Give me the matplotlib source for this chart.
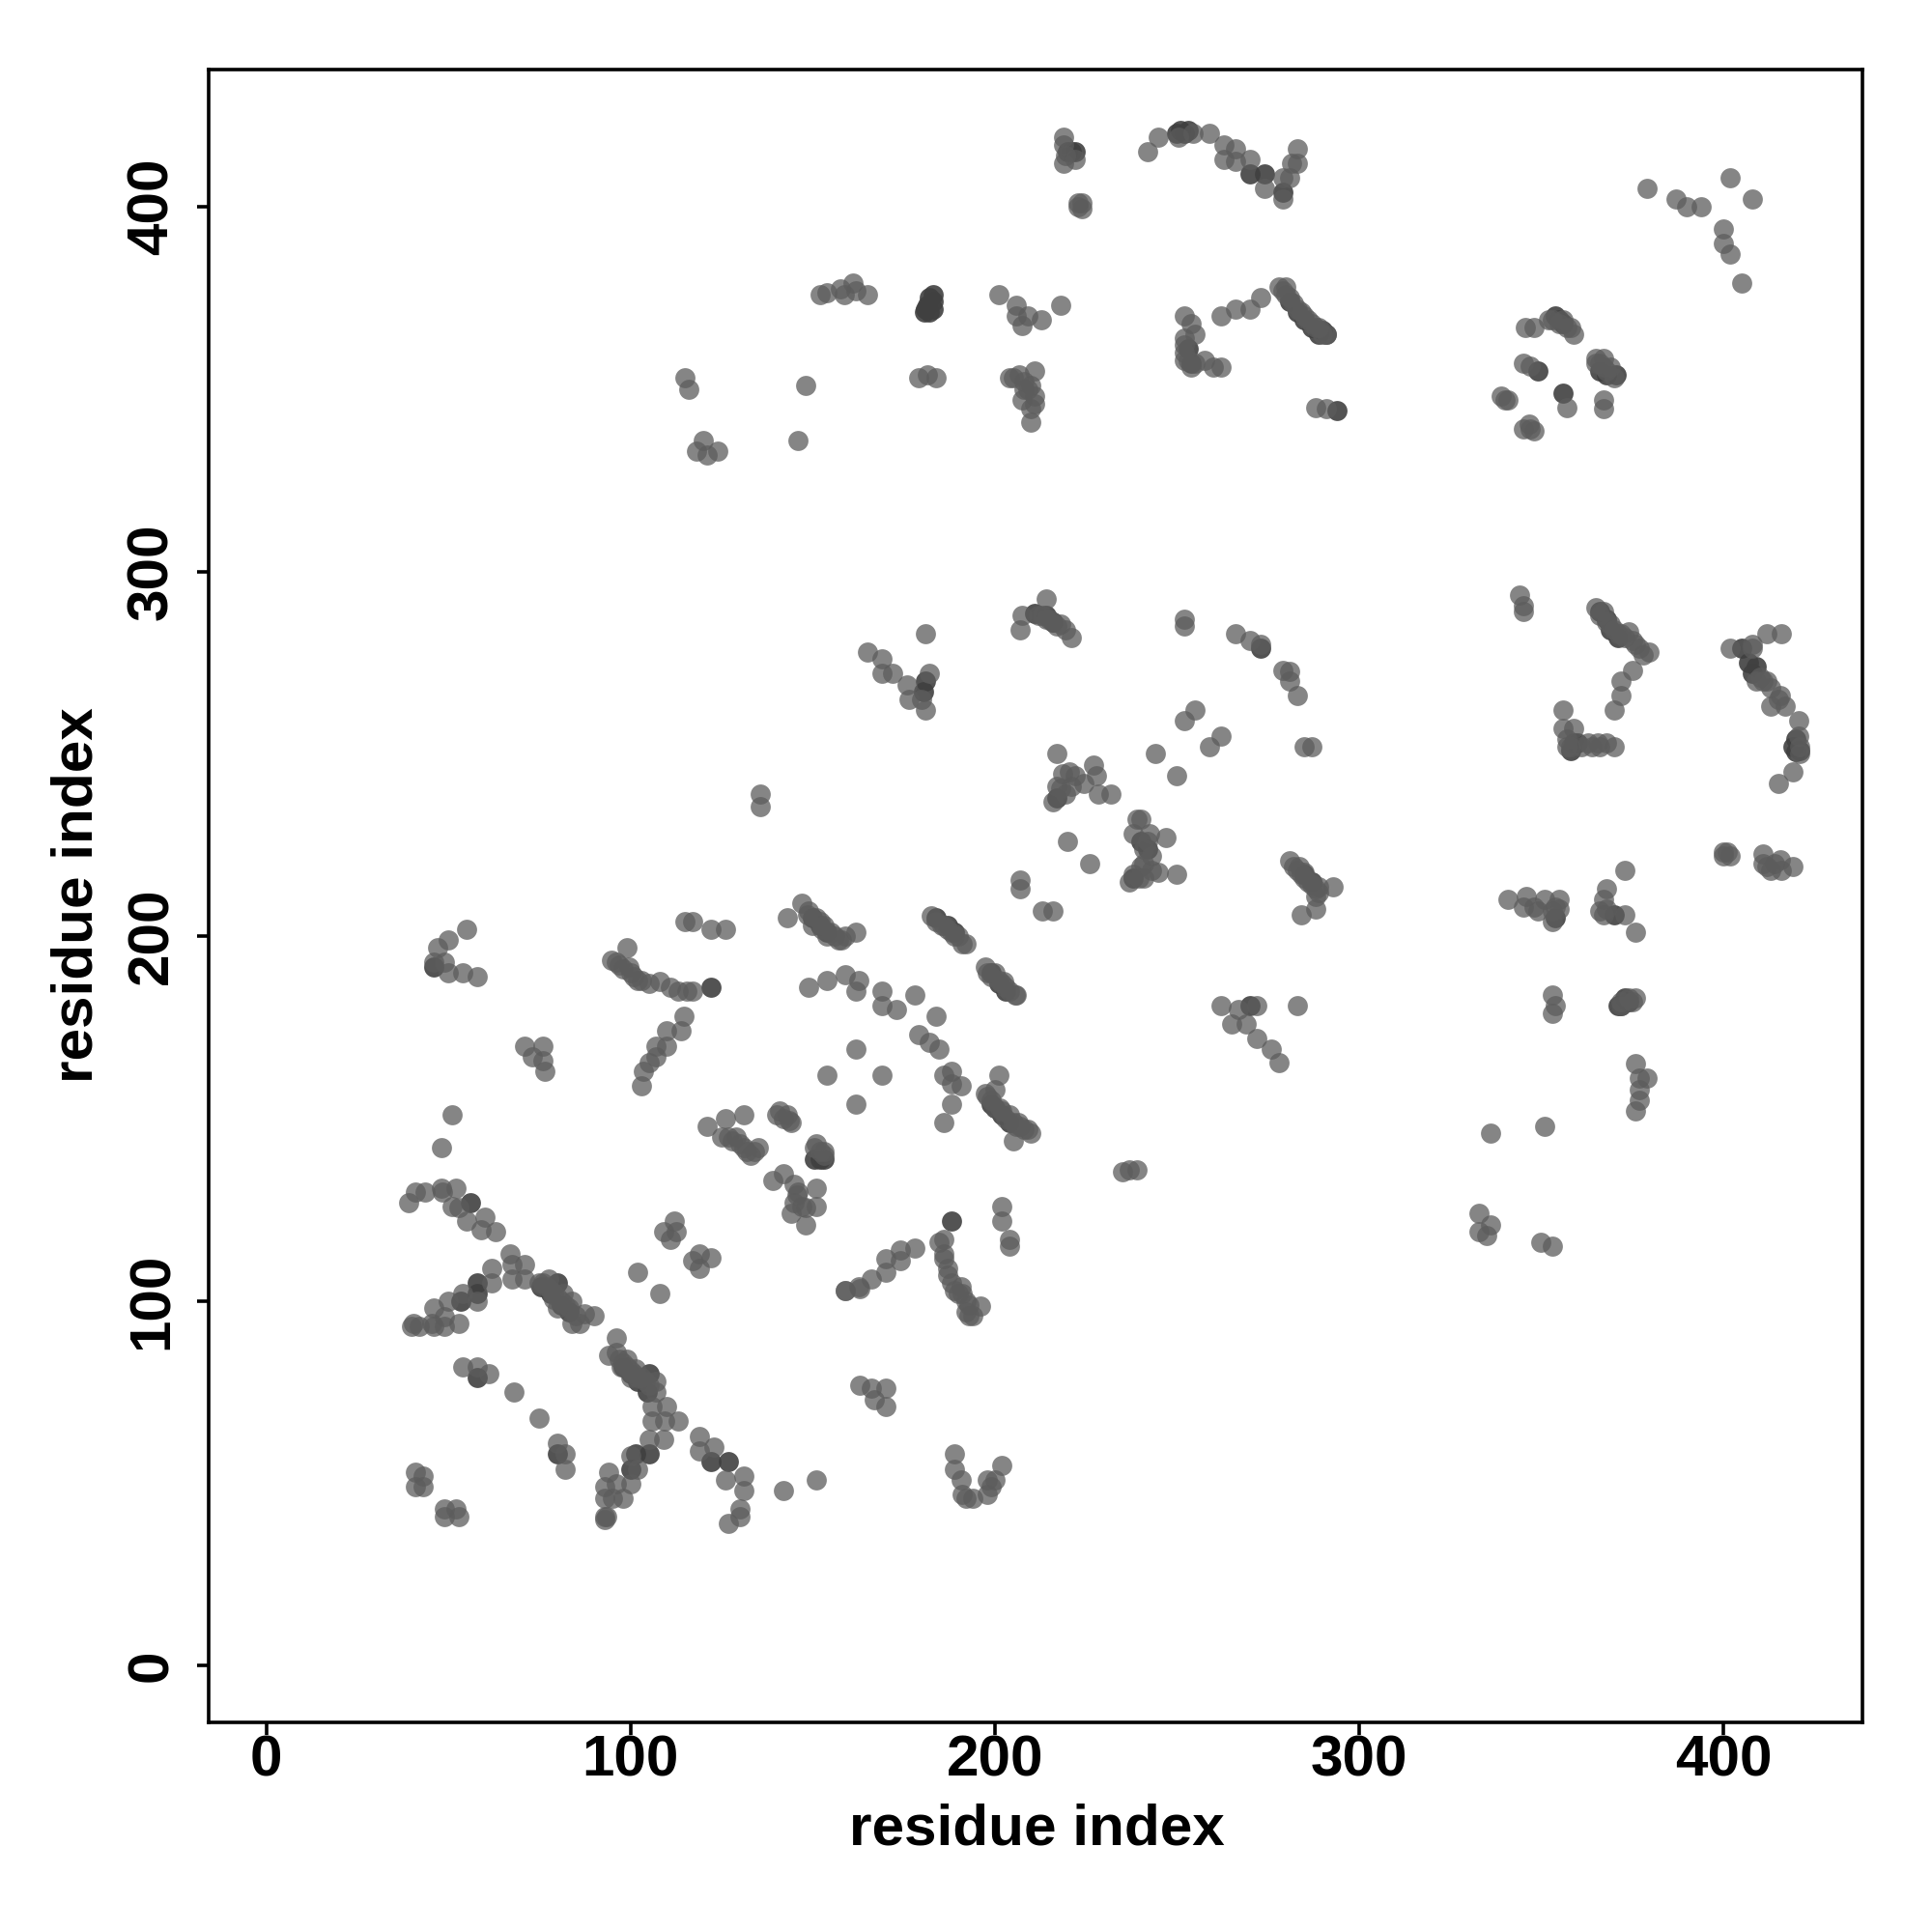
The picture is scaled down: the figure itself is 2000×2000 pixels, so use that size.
import matplotlib
matplotlib.use("Agg")
import matplotlib.pyplot as plt

plt.rcParams['font.family'] = ['Liberation Sans', 'DejaVu Sans']

tick_values = [0, 100, 200, 300, 400]
axis_label = "residue index"

lower_left = [(51,151),(48,142),(39,127),(41,130),(43.6,130),(48,131),(48.5,130),(52,131),(51,126),(53,125.6),(55,122),(60,123),(59,119.5),(63,119),
 (67,113),(67.5,110),(67.5,106),(71,110),(71,106),(62,109),(62,105),(58,100),(54,102),(50,100),(46,98),(45.4,94),(49,95.6),(49,93),(53,94),(46,93),(42,93),(40.5,94),(40,93),
 (75,105),(77.6,106),(79,100.5),(81.6,102),(80,98),(84,100),(84,94),(86,94),(87.4,96.5),(90,96),
 (96,90),(94,85),(96,86),(99,84),(97.5,82),(101.5,81.5),(100,79),(107,78),(107,75),(106,71),(110,71),(106,67),(109.5,67),(113,67),
 (105,62),(109,62),(100,57.6),(102,54),(100,50),(94,53),(93,49),(96,50),(93,46),(95,46),(98,46),(93,41),(93.5,41),(93,40),
 (119,63),(119,59),(123,60),(126,51),(131,52),(131,48),(130,43),(130,41),(127,39),(142,48),(151,51),
 (54,82),(58,82),(61,80),(68,75),(75,68),(80,61),(82,58),(82,54),(41,53),(43,52),(41,49),(43,49),(49,43),(49,41),(52,43),(53,41),
 (112,122),(109,119),(112.6,119),(111,117),(102,108),(108,102),(119,113),(122,112),(117,111),(119,109),(159,103),(163,103.5),
 (126,150),(121,148),(125,145),(129,145),(131,151),(135,142),(133,140),(131,142),(140,151),(143.5,149.5),(150.6,142),(153,141),(139,133),(142,135),(145,132),(145.7,129),(151,131),(151,126),(144,124),(148,125.6),(148,121),
 (76,105),(77,104),(78,103),(79,102),(80,101),(81,100),(82,99),(83,98),(85,96),
 (97,84),(98,83),(99,82),(100,81),(101,80),(102,79),(103,79),(104,78),(105,77),
 (127,145),(128,144),(130,143),(132,141),(134,141),(141,152),(142,150),(143,151),(144,149),(151,143),(152,141),(153,140),(145,127),(146,130),(147,126)]
lower_left_dark = [(56,127),(58,105),(58,102),(53.5,100),(80,105),(75.5,104),(105,80),(104.6,75),(101.5,58),(105,58),(100,54),(122,56),(127,56),(58,79),(80,58),(150.6,139),
 (78,102),(81,99),(83,97),(98,82),(100,80),(102,78),(152,139),(153,139)]

middle = [(46,193),(47,197),(50,199),(55,202),(49,193),(54,190),(58,189),(50,190),(71,170),(73,167),(76,170),(76,166),(76.5,163),
 (94.7,193.5),(99,197),(99.5,191.5),(103,188),(108,187.5),(111,186),(115.6,185),(117,185),(115,204),(117,204),(122,202),(126,202),
 (103,159),(103.5,163),(105,165.5),(107,167),(107,170),(110,170),(110,174),(114,174),(114.6,178),(135.6,239),(135.6,235.5),
 (143,205),(147,209),(148.5,206),(150,203),(152.5,202),(154,200),(157,199),(159,200),(162,201),(149,186),(154,188),(159,189.5),(162.6,188),(162,185),
 (169,185),(169,181),(173,180),(178,184),(179,173),(182,171),(184,178),(184.6,169),(154,162),(162,169),(169,162),(162,154),
 (186,162),(188,163),(188,159.5),(190.7,159),(188,154),(186,149),(201,162),(197.5,157),(200,158),(201.5,153),(204,151),(206.5,149),(209,147),(205,144),
 (182.6,205.5),(185.6,203),(188,201),(191,198),(197.5,191.5),(200,190),(202.5,187.5),(205.6,184),
 (262,181),(267,180),(272,181),(265,176),(269,176),(272,172),(276,169),(278,165.5),(283,181),
 (186,117),(186,111.5),(187,109),(188,105),(190.7,104),(192,100),(196,98.6),(194,96),(159,103),(162.6,104),(166,106),(170,108),(170,111.5),(174,111),(174,114),(178,114.5),(184.6,116),
 (202,126),(202,122),(204,117),(204,115),(163,77),(166,76),(170,76),(167,73),(170,71),
 (189,58),(189,54),(190.7,51),(191,47),(194,46),(198,51),(200,51),(198,47),(202,55),(237,136),(235,135.5),(239,136),
 (216,237),(218,240.5),(217,250),(218.5,244.5),(220.5,245),(219.5,239),(224.5,242),(227,247),(228,244),(228.5,239),(232,239),
 (220,226),(226,220),(207,215.5),(207,213),(213,207),(216,207),(239,232),(240,232),(238,228),(242.4,228),(247,227),(241,224),(243,222),(237,215),(239.7,216),(245,217.6),(250,217),(241,220),
 (244,250),(250,244),(252,259),(255,262),(259,252),(262,255),(252,287),(252,285),(266,283),(270,281),(273,280),(279,273),(281,272.6),(281,270),(283,266),(285,252),(287,252),
 (281,220.6),(283.7,219),(285,217.6),(287,215),(289,213.5),(293,213.5),(284,206),(288,207.5),(288,211),
 (207,284),(207.5,288),(214,292.5),(215,287),(218,285.5),(219.5,284),(221,282),(165,278),(169,276),(169,272),(172,272),(176,269),(176.5,265),(180,265),(182,272),(181,262),(181,283),
 (184,204),(186,203),(187,202),(189,200),(190,200),(192,198),(198,190),(199,189),(201,188),(202,187),(203,186),(204,185),(206,184),
 (198,156),(199,155),(200,153),(202,152),(203,150),(205,149),(206,148),(207,148),(208,147),(210,146),
 (149,207),(151,205),(152,204),(153,203),(155,201),(156,200),(158,199),(96,193),(97,192),(98,191),(100,190),(101,189),(102,188),(105,187),(113,185),
 (212,288),(213,288),(214,287),(216,286),(217,285),(282,219),(283,218),(284,217),(285,216),(286,215),(287,214),(288,213),(289,212),(217,241),(221,241),(222,244),(240,219),(238,217),(242,226),(243,218),(241,216),(191,102),(193,99),(186,113),(187,107),(189,103),(190,102),(192,97),(193,96),(199,49),(192,46)]
middle_dark = [(46,191.5),(122,186),(199,154),(270,181),(188,122),(273,279),(211,288.5),(181,270),(180.5,267),
 (184,205),(187,203),(189,201),(199,190),(201,187),(203,185),(200,153),(202,151),(204,149),(150,205),(152,203),(154,201),(214,288),(216,286),(285,217),(287,215),(217,238),(238,216),(240,226),(242,224)]

upper = [(148,351),(146,336),(115,353),(116,350),(118,333),(120,336),(121,332),(124,333),
 (152,376),(154,376.5),(157.6,377.5),(161,379),(158.6,376),(165,376),(162,377),(179,353),(181.6,354),(184,353),
 (201,376),(206,373),(206,370),(207.6,367.5),(212.7,369),(218,373),(209,370),(204,353),(206.6,354),(211,355),(210,351),(211,348),(207.6,347),(210,344.6),(210,341),
 (219,419),(219.5,414),(222,413),(219,412),(223,400),(224,399.5),(223,401),(224,401),
 (242,415),(245,419),(250.5,419),(254.5,420),(259,420),(263,417),(263,413),(266,416),(266,412.5),(270,413),(274,405),(279,402),(279,408),(281,408),(281.5,412),(283,412),(283,416),
 (252,370),(254,368),(252,364),(252,358),(255,357),(257.6,358),(260,356),(262,356),(262,370),(266,372),(270,372),(273,375),
 (278,378),(280,378),(280,376),(282,373.6),(284,371),(286,369),(289,367),(291,365),(288,345),(291,344.6),
 (379,405),(387,402),(390,400),(394,400),(400,394),(400,390),(402,387),(405,379),(402,408),(408,402),
 (345.6,367),(348,367),(352,369),(356,369),(358,367),(359,365),(365,358.5),(367,358.5),(369,356),(366,357),(345,357),(347,356.4),
 (339,348),(341,347),(357,345),(367,347),(367,344.6),(346.6,340.5),(348,338.5),
 (279,377),(281,375),(283,372),(285,370),(287,368),(288,367),(290,365),(252,362),(252,360),(253,358),(254,356),(255,365),(365,357),(367,356),(368,355),(370,353),(353,369),(355,368),(357,367),(205,353),(208,352),(209,350),(208,350),(211,346),(219,417),(340,347),(345,339),(347,339)]
upper_dark = [(181.6,373),(183,376),(180.6,371),(221,415),(252,420),(250,420),(270,409),(274,409),(279,404),(294,344),(354,370),(370.6,354),(291,365),(349,355),(356,349),
 (181,372),(182,371),(183,372),(183,374),(182,375),(220,415),(222,415),(251,421),(253,421),(281,374),(283,371),(285,369),(287,367),(289,365),(290,366),(366,355),(368,354),(355,369),(356,368),(254,357),(253,361)]

right = [(344,293.6),(345,289),(345,290.5),(365,290),(367,289),(369,285.5),(372,283),(374,283.5),(377,279),(379.5,278),(375,273),(372,270),(372,266),(370,262),
 (356,262),(356,257),(359,257),(357,254),(363,253),(368,253),(370,252),(365.5,253),(402,279),(408,279),(409,270),(408,280),(412,283),(416,283),(412,270),(415.6,266),(413,263),(417,263),(420.6,259),(420.6,255),(419,245),(415,242),
 (400,223),(401,223),(411,222.6),(414,220),(415.6,221),(419,219),(412,219),(341,210),(346,211),(348,208),(351,210),(355,210),(353,204),(355,207.5),
 (367,210),(368,213),(373,218),(368,207.5),(373,206),(376,201),(353,184),(354,181),(353,179),(376,183),(372,182),
 (376,165),(377,161),(379,161),(377,158),(377,155),(376,152),(336,146),(351,148),(333,124),(336,121),(333,119),(335,118),(350,116),(353,115),
 (366,288),(368,286),(370,284),(371,283),(373,282),(375,281),(376,280),(378,277),(357,252),(358,252),(361,252),(364,252),(366,252),(410,271),(411,270),(413,268),(415,265),(421,252),(421,250),(345,208),(349,207),(353,207),(354,208),(366,207),(367,206),(374,183),(375,182),(372,181),(411,220),(413,218),(416,218),(400,222),(402,222)]
right_dark = [(360,253),(405,279),(409,274),(420,254),(420,250.6),(354,205),(370,206),(371,181),(373,183),
 (366,289),(368,287),(369,284),(371,282),(359,253),(358,251),(419,252),(421,251),(372,181),(374,182),(407,275),(408,272)]

light = lower_left + middle + upper + right
dark = lower_left_dark + middle_dark + upper_dark + right_dark

fig = plt.figure(figsize=(10, 10), dpi=200)
ax = fig.add_axes([216/2000, 1 - 1783/2000, (1928-216)/2000, (1783-72)/2000])

ax.scatter([p[0] for p in dark], [p[1] for p in dark], s=56, color=(0.25, 0.25, 0.25), alpha=0.9, linewidths=0, zorder=2)
ax.scatter([p[0] for p in light], [p[1] for p in light], s=56, color=(0.36, 0.36, 0.36), alpha=0.75, linewidths=0, zorder=3)

ax.set_xlim(-15.8, 438.2)
ax.set_ylim(-15.5, 437.6)
ax.set_xticks(tick_values)
ax.set_yticks(tick_values)
ax.tick_params(axis='both', length=4.5, width=1.3, labelsize=21.7)
ax.tick_params(axis='x', pad=0)
ax.tick_params(axis='y', pad=6.5)
for lab in ax.get_xticklabels():
    lab.set_fontweight('bold')
for lab in ax.get_yticklabels():
    lab.set_fontweight('bold')
    lab.set_rotation(90)
    lab.set_va('center')
for s in ax.spines.values():
    s.set_linewidth(1.3)

fig.text(1073/2000, 1 - 1894/2000, axis_label, fontsize=21.7, fontweight='bold', ha='center', va='center')
fig.text(80/2000, 1 - 927/2000, axis_label, fontsize=21.7, fontweight='bold', ha='center', va='center', rotation=90)

fig.savefig("out.png", dpi=200)
